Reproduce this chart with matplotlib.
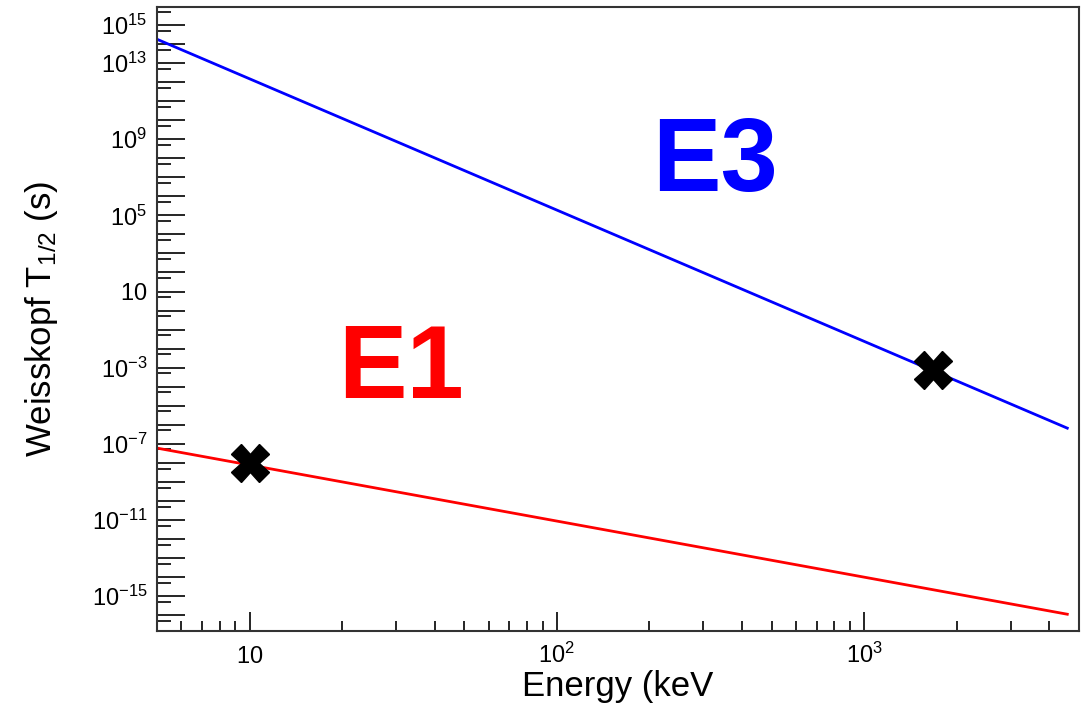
import matplotlib
matplotlib.use("Agg")
import matplotlib.pyplot as plt
from matplotlib.ticker import FixedLocator, FixedFormatter, NullFormatter

plt.rcParams["font.family"] = ["Liberation Sans", "DejaVu Sans"]
plt.rcParams["mathtext.fontset"] = "custom"
plt.rcParams["mathtext.rm"] = "Liberation Sans"
plt.rcParams["mathtext.it"] = "Liberation Sans:italic"
plt.rcParams["mathtext.bf"] = "Liberation Sans:bold"

# Weisskopf estimates (end points of straight log-log lines)
energy = [5, 4580]               # keV
t_e1 = [5.9e-8, 1.1e-16]         # s
t_e3 = [1.8e14, 6.6e-7]          # s

# measured transitions (crosses)
cross_energy = [10, 1680]
cross_t = [1.0e-8, 7.4e-4]

# axis ticks
y_label_exp = [15, 13, 9, 5, 1, -3, -7, -11, -15]
y_major_exp = list(range(-17, 16))
x_major = [10, 100, 1000]
x_major_labels = [r"$\mathregular{10}$", r"$\mathregular{10^{2}}$", r"$\mathregular{10^{3}}$"]
x_minor = [6, 7, 8, 9, 20, 30, 40, 50, 60, 70, 80, 90,
           200, 300, 400, 500, 600, 700, 800, 900, 2000, 3000, 4000]

fig = plt.figure(figsize=(10.83, 7.15), dpi=100)
ax = fig.add_axes([157 / 1083, 1 - 631 / 715, 922 / 1083, 624 / 715])
ax.set_xscale("log")
ax.set_yscale("log")

ax.plot(energy, t_e3, color="#0000ff", lw=2.0)
ax.plot(energy, t_e1, color="#ff0000", lw=2.0)
ax.plot(cross_energy, cross_t, ls="none", marker="X", ms=27, color="black", mec="black")

ax.set_xlim(5, 5000)
ax.set_ylim(10 ** -16.84, 10 ** 15.95)

# y ticks
y_major = [10.0 ** e for e in y_major_exp]
y_labels = []
for e in y_major_exp:
    if e not in y_label_exp:
        y_labels.append("")
    elif e == 1:
        y_labels.append(r"$\mathregular{10}$")
    else:
        y_labels.append(r"$\mathregular{10^{%d}}$" % e)
ax.yaxis.set_major_locator(FixedLocator(y_major))
ax.yaxis.set_major_formatter(FixedFormatter(y_labels))
ax.yaxis.set_minor_locator(FixedLocator([5 * 10.0 ** e for e in range(-18, 16)]))
ax.yaxis.set_minor_formatter(NullFormatter())

# x ticks
ax.xaxis.set_major_locator(FixedLocator(x_major))
ax.xaxis.set_major_formatter(FixedFormatter(x_major_labels))
ax.xaxis.set_minor_locator(FixedLocator(x_minor))
ax.xaxis.set_minor_formatter(NullFormatter())

ax.tick_params(axis="y", which="major", direction="in", length=20, width=1.2,
               pad=7, labelsize=17, right=False)
ax.tick_params(axis="y", which="minor", direction="in", length=10, width=1.2, right=False)
ax.tick_params(axis="x", which="major", direction="in", length=14, width=1.2,
               pad=23, labelsize=17, top=False)
ax.tick_params(axis="x", which="minor", direction="in", length=7, width=1.2, top=False)
for lab in ax.get_xticklabels():
    lab.set_verticalalignment("baseline")

for sp in ax.spines.values():
    sp.set_linewidth(1.5)
    sp.set_color("#333333")

ax.set_xlabel("Energy (keV", fontsize=25)
ax.xaxis.set_label_coords(0.5, -0.062)
ax.set_ylabel(r"Weisskopf T$_{\mathregular{1/2}}$ (s)", fontsize=25)
ax.yaxis.set_label_coords(-0.105, 0.5)

ax.text(0.265, 0.416, "E1", transform=ax.transAxes, color="#ff0000",
        fontsize=74, fontweight="bold", ha="center", va="center")
ax.text(0.605, 0.748, "E3", transform=ax.transAxes, color="#0000ff",
        fontsize=74, fontweight="bold", ha="center", va="center")

fig.savefig("out.png", dpi=100)
